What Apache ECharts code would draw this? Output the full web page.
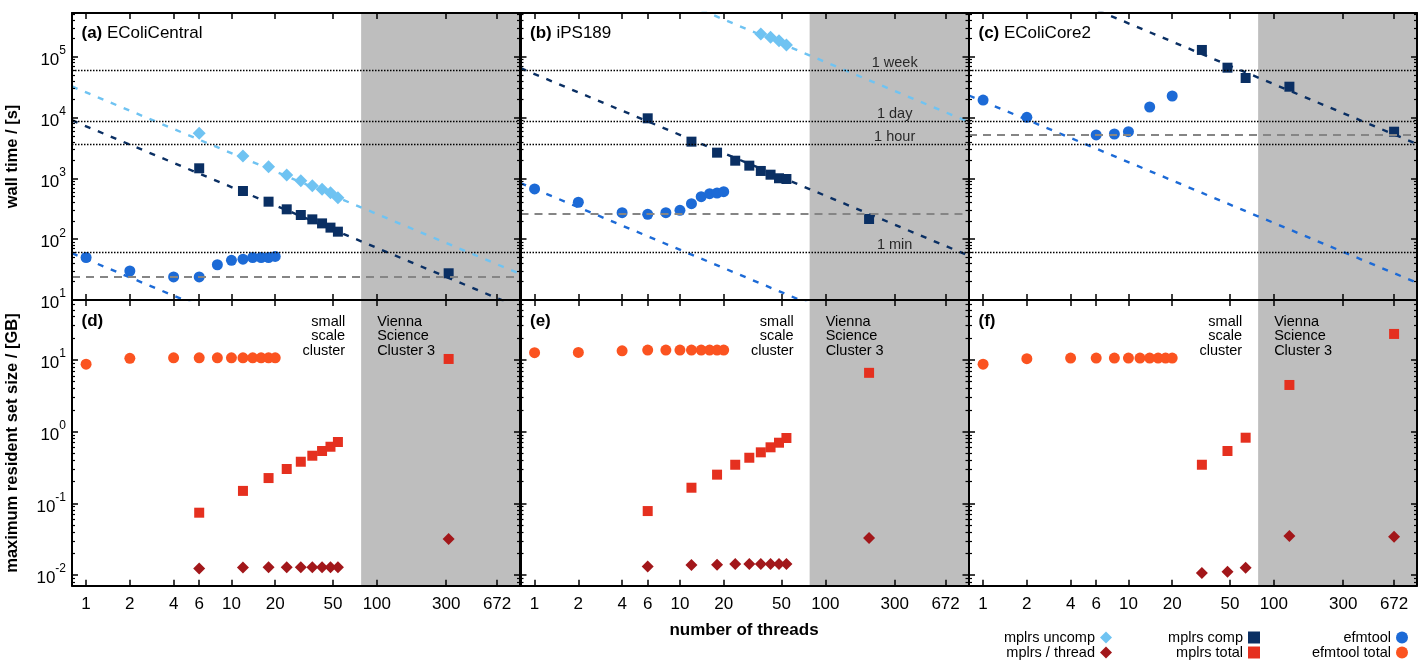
<!DOCTYPE html>
<html><head><meta charset="utf-8">
<script src="https://cdn.jsdelivr.net/npm/echarts@6/dist/echarts.min.js"></script>
<style>html,body{margin:0;padding:0;background:#fff}#c{width:1425px;height:661px}</style>
</head><body><div id="c"></div><script>
// ---------- axis / tick data ----------
const xTicks = [1, 2, 4, 6, 10, 20, 50, 100, 300, 672];
const yTimeTicks = [10, 100, 1000, 10000, 100000];
const yMemTicks = [0.01, 0.1, 1, 10];
const timeLines = [60, 3600, 8640, 60480];
const timeLabels = ['1 min', '1 hour', '1 day', '1 week'];
const timeLabelX = 300;
const vscStart = 78;
const panelNames = ['EColiCentral', 'iPS189', 'EColiCore2'];
const panelLetters = ['(a)', '(b)', '(c)', '(d)', '(e)', '(f)'];

const efmThreads = [1, 2, 4, 6, 8, 10, 12, 14, 16, 18, 20];
const mplrsThreads = [6, 12, 18, 24, 30, 36, 42, 48, 54];

// ---------- (a)/(d) EColiCentral ----------
const aEfmTime = [50, 30, 24, 24, 38, 45, 47, 50, 50, 50, 52];
const aCompTime = [1466, 621, 414, 310, 250, 212, 182, 155, 133];
const aUncompTime = [5520, 2334, 1560, 1137, 916, 759, 662, 582, 482];
const aVscThreads = [312];
const aVscCompTime = [27.5];
const aEfmMin = 24;
const aFitUncomp = [[0.8, 32500], [966, 26.9]];
const aFitComp = [[0.8, 9000], [966, 7.45]];
const aFitEfm = [[0.8, 58.8], [966, 0.049]];
const aEfmMem = [8.7, 10.5, 10.7, 10.7, 10.7, 10.7, 10.7, 10.7, 10.7, 10.7, 10.7];
const aTotalMem = [0.074, 0.149, 0.225, 0.301, 0.380, 0.461, 0.536, 0.615, 0.716];
const aThreadMem = [0.0123, 0.0127, 0.0128, 0.0128, 0.0128, 0.0128, 0.0128, 0.0128, 0.0128];
const aVscTotalMem = [10.3];
const aVscThreadMem = [0.0318];

// ---------- (b)/(e) iPS189 ----------
const bEfmTime = [670, 405, 273, 257, 273, 299, 384, 500, 560, 575, 604];
const bCompTime = [9730, 4020, 2650, 1955, 1620, 1325, 1151, 1005, 977];
const bUncompThreads = [36, 42, 48, 54];
const bUncompTime = [237000, 209000, 184000, 156000];
const bVscThreads = [200];
const bVscCompTime = [215];
const bEfmMin = 265;
const bFitUncomp = [[0.8, 1.03e7], [966, 8500]];
const bFitComp = [[0.8, 65000], [966, 53.8]];
const bFitEfm = [[0.8, 838], [966, 0.694]];
const bEfmMem = [12.6, 12.7, 13.4, 13.7, 13.7, 13.7, 13.7, 13.7, 13.7, 13.7, 13.7];
const bTotalMem = [0.078, 0.165, 0.251, 0.345, 0.432, 0.514, 0.604, 0.700, 0.815];
const bThreadMem = [0.0132, 0.0138, 0.0139, 0.0142, 0.0142, 0.0142, 0.0142, 0.0142, 0.0142];
const bVscTotalMem = [6.6];
const bVscThreadMem = [0.0328];

// ---------- (c)/(f) EColiCore2 ----------
const cEfmTimeThreads = [1, 2, 6, 8, 10, 14, 20];
const cEfmTime = [19450, 10120, 5180, 5370, 5860, 14940, 22640];
const cMplrsThreads = [32, 48, 64];
const cCompTime = [129500, 66200, 44800];
const cVscThreads = [128, 672];
const cVscCompTime = [32200, 5860];
const cEfmMin = 5220;
const cFitComp = [[0.8, 4.44e6], [966, 3675]];
const cFitEfm = [[0.8, 23100], [966, 19.2]];
const cEfmMem = [8.7, 10.4, 10.6, 10.6, 10.6, 10.6, 10.6, 10.6, 10.6, 10.6, 10.6];
const cTotalMem = [0.345, 0.536, 0.822];
const cThreadMem = [0.0107, 0.0111, 0.0126];
const cVscTotalMem = [4.47, 23.0];
const cVscThreadMem = [0.035, 0.0342];

// ---------- styling ----------
const FONT = "'Liberation Sans', Arial, Helvetica, sans-serif";
const C_UNCOMP = '#6fc3f2', C_COMP = '#0a2f63', C_EFM = '#1c6ad6';
const C_EFMTOT = '#fb5320', C_TOTAL = '#e5301f', C_THREAD = '#a2171a', C_GRAY = '#bebebe';
const X_MIN = 0.8, X_MAX = 966;
const TIME_MIN = 10, TIME_MAX = 525000, MEM_MIN = 0.0071, MEM_MAX = 68.4;
const colLeft = [72, 520.5, 969], colW = 448;
const rowTop = [13, 300], rowH = [287, 285.7];

function zip(xs, ys) { return xs.map((x, i) => [x, ys[i]]); }
function minorTicks(lo, hi) {
  const out = [];
  for (let d = lo; d < hi; d *= 10) for (let k = 2; k <= 9; k++) out.push(+(k * d).toPrecision(3));
  return out;
}
const timeMinor = minorTicks(10, 1e6);
const memMinor = minorTicks(0.001, 100);

const grid = [], xAxis = [], yAxis = [], series = [];
const pow10 = v => { const e = Math.round(Math.log10(v)); return '{b|10}{s|' + e + '}'; };
const rich = {
  b: { fontSize: 17, fontFamily: FONT, color: '#000', verticalAlign: 'bottom', lineHeight: 24 },
  s: { fontSize: 12, fontFamily: FONT, color: '#000', verticalAlign: 'top', lineHeight: 24 }
};

function addGrid(row, col) {
  const gi = grid.length;
  grid.push({ left: colLeft[col], top: rowTop[row], width: colW, height: rowH[row], show: false });
  const xb = { type: 'log', logBase: 10, gridIndex: gi, min: X_MIN, max: X_MAX, z: 6,
    splitLine: { show: false },
    axisLine: { show: true, lineStyle: { color: '#000', width: 2 } },
    axisTick: { show: true, inside: true, length: 6, customValues: xTicks, lineStyle: { color: '#000', width: 1.5 } } };
  xAxis.push(Object.assign({}, xb, { position: 'bottom',
    axisLabel: { show: row === 1, customValues: xTicks, color: '#000', fontSize: 17, fontFamily: FONT, margin: 10,
      formatter: v => String(Math.round(v)) } }));
  xAxis.push(Object.assign({}, xb, { position: 'top', axisLabel: { show: false } }));
  const ticks = row === 0 ? yTimeTicks : yMemTicks;
  const minor = row === 0 ? timeMinor : memMinor;
  const mn = row === 0 ? TIME_MIN : MEM_MIN, mx = row === 0 ? TIME_MAX : MEM_MAX;
  const yb = { type: 'log', logBase: 10, gridIndex: gi, min: mn, max: mx, z: 6, splitLine: { show: false } };
  const major = { show: true, inside: true, length: 6, customValues: ticks, lineStyle: { color: '#000', width: 1.5 } };
  const minr = { show: true, inside: true, length: 3, customValues: minor, lineStyle: { color: '#000', width: 1.2 } };
  const line = { show: true, lineStyle: { color: '#000', width: 2 } };
  yAxis.push(Object.assign({}, yb, { position: 'left', axisLine: line, axisTick: major,
    axisLabel: { show: col === 0, customValues: ticks, margin: 6, formatter: pow10, rich: rich } }));
  yAxis.push(Object.assign({}, yb, { position: 'left', axisLine: { show: false }, axisTick: minr, axisLabel: { show: false } }));
  yAxis.push(Object.assign({}, yb, { position: 'right', axisLine: line, axisTick: major, axisLabel: { show: false } }));
  yAxis.push(Object.assign({}, yb, { position: 'right', axisLine: { show: false }, axisTick: minr, axisLabel: { show: false } }));
  // gray Vienna Science Cluster band
  series.push({ type: 'line', xAxisIndex: 2 * gi, yAxisIndex: 4 * gi, data: [], z: 1, silent: true,
    markArea: { silent: true, itemStyle: { color: C_GRAY, opacity: 1 },
      data: [[{ xAxis: vscStart }, { xAxis: X_MAX }]] } });
  return gi;
}
function scatter(gi, name, data, symbol, size, color) {
  series.push({ type: 'scatter', name, xAxisIndex: 2 * gi, yAxisIndex: 4 * gi, data, symbol, symbolSize: size,
    itemStyle: { color, opacity: 1 }, z: 4, silent: true });
}
function fit(gi, data, color) {
  series.push({ type: 'line', xAxisIndex: 2 * gi, yAxisIndex: 4 * gi, data, symbol: 'none', clip: true,
    lineStyle: { color, width: 2.4, type: [6, 8] }, z: 3, silent: true });
}
function refLines(gi, efmMin, withLabels) {
  series.push({ type: 'line', xAxisIndex: 2 * gi, yAxisIndex: 4 * gi, data: [], z: 2, silent: true,
    markLine: { silent: true, symbol: 'none', label: { show: false },
      data: timeLines.map(v => ({ yAxis: v, lineStyle: { color: '#000', width: 1.3, type: [1.5, 1.5] } }))
        .concat([{ yAxis: efmMin, lineStyle: { color: '#858585', width: 1.8, type: [8, 6] } }]) } });
  if (withLabels) {
    series.push({ type: 'scatter', xAxisIndex: 2 * gi, yAxisIndex: 4 * gi, symbolSize: 0, z: 5, silent: true,
      data: timeLines.map(v => [timeLabelX, v]),
      label: { show: true, position: 'top', distance: 0, color: '#000', fontSize: 14.5, fontFamily: FONT,
        formatter: p => timeLabels[p.dataIndex] } });
  }
}

// ---------- top row: wall time ----------
let g = addGrid(0, 0);
refLines(g, aEfmMin, false);
fit(g, aFitUncomp, C_UNCOMP); fit(g, aFitComp, C_COMP); fit(g, aFitEfm, C_EFM);
scatter(g, 'efmtool', zip(efmThreads, aEfmTime), 'circle', 11, C_EFM);
scatter(g, 'mplrs uncomp', zip(mplrsThreads, aUncompTime), 'diamond', 13, C_UNCOMP);
scatter(g, 'mplrs comp', zip(mplrsThreads, aCompTime).concat(zip(aVscThreads, aVscCompTime)), 'rect', 10, C_COMP);

g = addGrid(0, 1);
refLines(g, bEfmMin, true);
fit(g, bFitUncomp, C_UNCOMP); fit(g, bFitComp, C_COMP); fit(g, bFitEfm, C_EFM);
scatter(g, 'efmtool', zip(efmThreads, bEfmTime), 'circle', 11, C_EFM);
scatter(g, 'mplrs uncomp', zip(bUncompThreads, bUncompTime), 'diamond', 13, C_UNCOMP);
scatter(g, 'mplrs comp', zip(mplrsThreads, bCompTime).concat(zip(bVscThreads, bVscCompTime)), 'rect', 10, C_COMP);

g = addGrid(0, 2);
refLines(g, cEfmMin, false);
fit(g, cFitComp, C_COMP); fit(g, cFitEfm, C_EFM);
scatter(g, 'efmtool', zip(cEfmTimeThreads, cEfmTime), 'circle', 11, C_EFM);
scatter(g, 'mplrs comp', zip(cMplrsThreads, cCompTime).concat(zip(cVscThreads, cVscCompTime)), 'rect', 10, C_COMP);

// ---------- bottom row: memory ----------
g = addGrid(1, 0);
scatter(g, 'efmtool total', zip(efmThreads, aEfmMem), 'circle', 11, C_EFMTOT);
scatter(g, 'mplrs total', zip(mplrsThreads, aTotalMem).concat(zip(aVscThreads, aVscTotalMem)), 'rect', 10, C_TOTAL);
scatter(g, 'mplrs / thread', zip(mplrsThreads, aThreadMem).concat(zip(aVscThreads, aVscThreadMem)), 'diamond', 12, C_THREAD);

g = addGrid(1, 1);
scatter(g, 'efmtool total', zip(efmThreads, bEfmMem), 'circle', 11, C_EFMTOT);
scatter(g, 'mplrs total', zip(mplrsThreads, bTotalMem).concat(zip(bVscThreads, bVscTotalMem)), 'rect', 10, C_TOTAL);
scatter(g, 'mplrs / thread', zip(mplrsThreads, bThreadMem).concat(zip(bVscThreads, bVscThreadMem)), 'diamond', 12, C_THREAD);

g = addGrid(1, 2);
scatter(g, 'efmtool total', zip(efmThreads, cEfmMem), 'circle', 11, C_EFMTOT);
scatter(g, 'mplrs total', zip(cMplrsThreads, cTotalMem).concat(zip(cVscThreads, cVscTotalMem)), 'rect', 10, C_TOTAL);
scatter(g, 'mplrs / thread', zip(cMplrsThreads, cThreadMem).concat(zip(cVscThreads, cVscThreadMem)), 'diamond', 12, C_THREAD);

// ---------- legends ----------
const legendSpec = [
  ['mplrs uncomp', 313, 630], ['mplrs / thread', 313, 645],
  ['mplrs comp', 165, 630], ['mplrs total', 165, 645],
  ['efmtool', 17, 630], ['efmtool total', 17, 645]
];
const legend = legendSpec.map(([name, r, t]) => ({
  data: [name], right: r, top: t, align: 'right', orient: 'horizontal', padding: 0,
  itemWidth: 12, itemHeight: 12, selectedMode: false,
  textStyle: { fontSize: 14.5, fontFamily: FONT, color: '#000' }
}));

// ---------- texts ----------
const graphic = [];
const bandPx = colW * (Math.log10(vscStart) - Math.log10(X_MIN)) / (Math.log10(X_MAX) - Math.log10(X_MIN));
for (let i = 0; i < 6; i++) {
  const row = Math.floor(i / 3), col = i % 3;
  const x0 = colLeft[col];
  const txt = row === 0 ? '{b|' + panelLetters[i] + '} ' + panelNames[col] : '{b|' + panelLetters[i] + '}';
  graphic.push({ type: 'text', left: x0 + 9.5, top: row === 0 ? 25 : 313, z: 20, silent: true,
    style: { text: txt, fontSize: 17, fontFamily: FONT, fill: '#000',
      rich: { b: { fontSize: 17, fontWeight: 'bold', fontFamily: FONT, fill: '#000' } } } });
  if (row === 1) {
    graphic.push({ type: 'text', z: 20, silent: true, x: x0 + bandPx - 16, y: 315,
      style: { text: 'small\nscale\ncluster', fontSize: 14.5, lineHeight: 14.3, fontFamily: FONT, fill: '#000',
        align: 'right', verticalAlign: 'top' } });
    graphic.push({ type: 'text', z: 20, silent: true, x: x0 + bandPx + 16, y: 315,
      style: { text: 'Vienna\nScience\nCluster 3', fontSize: 14.5, lineHeight: 14.3, fontFamily: FONT, fill: '#000',
        align: 'left', verticalAlign: 'top' } });
  }
}
graphic.push({ type: 'text', z: 20, silent: true, x: 12, y: 156.5, rotation: Math.PI / 2,
  style: { text: 'wall time / [s]', fontSize: 16.5, fontWeight: 'bold', fontFamily: FONT, fill: '#000', align: 'center', verticalAlign: 'middle' } });
graphic.push({ type: 'text', z: 20, silent: true, x: 12, y: 443, rotation: Math.PI / 2,
  style: { text: 'maximum resident set size / [GB]', fontSize: 16.5, fontWeight: 'bold', fontFamily: FONT, fill: '#000', align: 'center', verticalAlign: 'middle' } });
graphic.push({ type: 'text', z: 20, silent: true, x: 744, y: 630,
  style: { text: 'number of threads', fontSize: 17, fontWeight: 'bold', fontFamily: FONT, fill: '#000', align: 'center', verticalAlign: 'middle' } });

const chart = echarts.init(document.getElementById('c'), null, { renderer: 'canvas' });
chart.setOption({ animation: false, backgroundColor: '#fff', grid, xAxis, yAxis, series, legend, graphic });
</script></body></html>
